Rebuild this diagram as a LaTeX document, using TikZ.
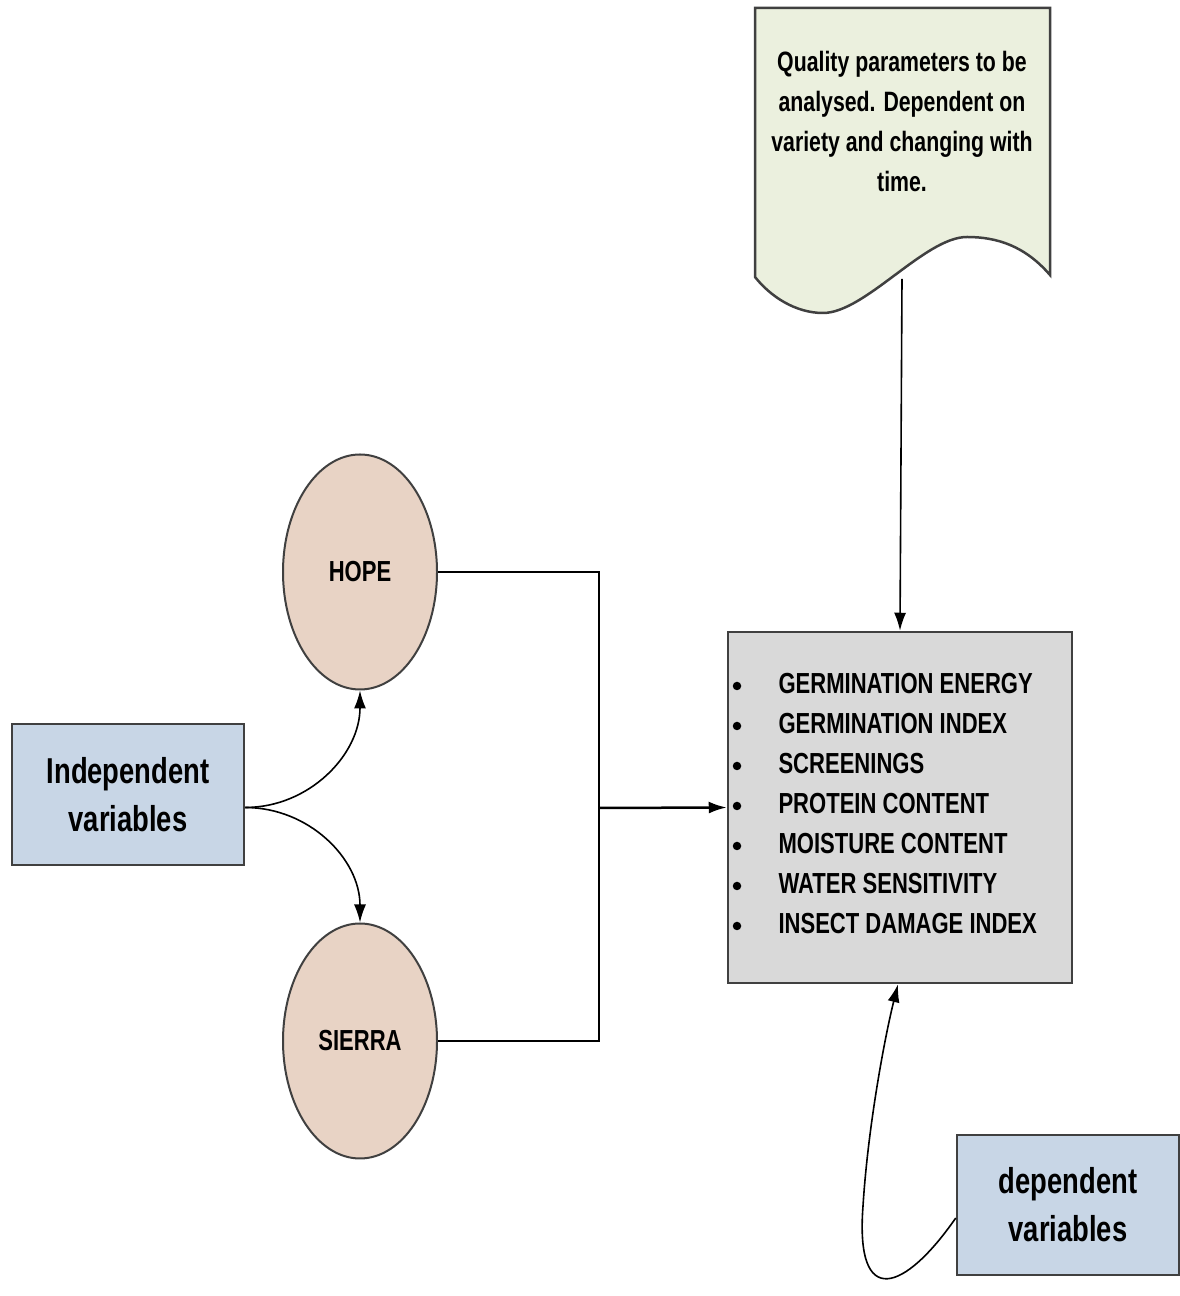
\documentclass[tikz,border=0pt]{standalone}
\usepackage{fontspec}
\setmainfont{Liberation Sans}[FakeStretch=0.76]
\usetikzlibrary{arrows.meta,shapes.geometric}
\definecolor{docfill}{HTML}{EBF0DE}
\definecolor{varfill}{HTML}{C8D6E6}
\definecolor{grainfill}{HTML}{E8D3C5}
\definecolor{listfill}{HTML}{D9D9D9}
\definecolor{edge}{HTML}{404040}

\begin{document}
\begin{tikzpicture}[x=1pt,y=1pt,font=\bfseries,>={Latex[length=18pt,width=12pt]},
  varbox/.style={draw=edge,line width=2.5pt,fill=varfill,align=center,font=\bfseries\fontsize{36}{48}\selectfont},
  grain/.style={draw=edge,line width=2pt,fill=grainfill,ellipse,minimum width=154,minimum height=235,font=\bfseries\fontsize{29}{35}\selectfont},
  item/.style={anchor=west,font=\bfseries\fontsize{29}{35}\selectfont},
  dot/.style={circle,fill=black,inner sep=0pt,minimum size=8.5pt},
  link/.style={line width=1.6pt}]
\useasboundingbox (0,0) rectangle (1180,1296);

% document shape at the top
\draw[edge,line width=2.5pt,fill=docfill] (755,1288) -- (1050,1288) -- (1050,1021)
  .. controls (1025,1050) and (997,1059) .. (967,1059)
  .. controls (925,1059) and (865,983) .. (823,983)
  .. controls (795,983) and (770,1000) .. (755,1019) -- cycle;
\node[align=center,font=\bfseries\fontsize{28}{40}\selectfont] (quality) at (902,1174)
  {Quality parameters to be\\analysed. Dependent on\\variety and changing with\\time.};
\coordinate (docbot) at (902,1017);

% parameter list
\node[draw=edge,line width=2.5pt,fill=listfill,minimum width=344,minimum height=351] (params) at (900,488.5) {};
\foreach \txt [count=\i] in {GERMINATION ENERGY,GERMINATION INDEX,SCREENINGS,PROTEIN CONTENT,MOISTURE CONTENT,WATER SENSITIVITY,INSECT DAMAGE INDEX}
{
  \node[item] (item\i) at (775,652-40*\i) {\txt};
  \node[dot] (dot\i) at (737,650-40*\i) {};
}

% varieties
\node[grain] (hope) at (360,724) {HOPE};
\node[grain] (sierra) at (360,255) {SIERRA};

% variables
\node[varbox,minimum width=232,minimum height=141] (indep) at (128,501.5) {Independent\\variables};
\node[varbox,minimum width=222,minimum height=140] (dep) at (1068,91) {dependent\\variables};

% connectors
\coordinate (join) at (599,488);
\draw[link] (hope.east) -| (join);
\draw[link] (sierra.east) -| (join);
\draw[->,line width=2.5pt] (join) -- (params.west);
\draw[->,link] (docbot) -- (params.north);
\draw[->,link] ([yshift=-13pt]indep.east) to[out=0,in=-90] (hope.south);
\draw[->,link] ([yshift=-13pt]indep.east) to[out=0,in=90] (sierra.north);
\draw[->,link] ([yshift=-13pt]dep.west) .. controls (905,5) and (855,-15) .. (863,90)
  .. controls (868,170) and (885,260) .. ([xshift=-2pt]params.south);
\end{tikzpicture}
\end{document}
